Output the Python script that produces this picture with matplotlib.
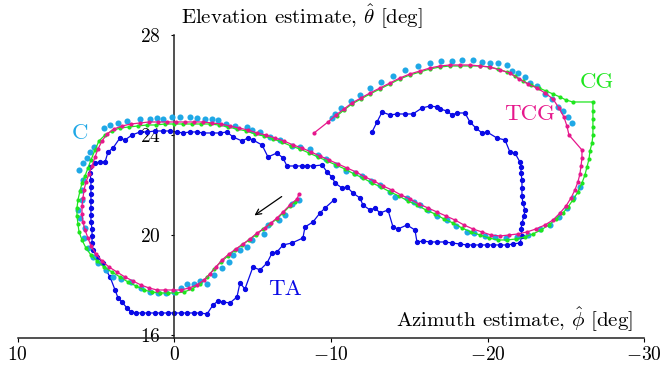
import matplotlib
matplotlib.use('Agg')
import matplotlib.pyplot as plt

plt.rcParams['font.family'] = 'serif'
plt.rcParams['font.serif'] = ['cmr10', 'DejaVu Serif']
plt.rcParams['mathtext.fontset'] = 'cm'
plt.rcParams['axes.formatter.use_mathtext'] = True

# TCG estimate (azimuth, elevation) in degrees
tcg_az = [-7.96, -7.83, -7.38, -6.94, -6.55, -6.17, -5.79, -5.28, -4.83, -4.38,
          -3.94, -3.49, -3.04, -2.66, -2.28, -1.90, -1.45, -0.94, -0.43, 0.08,
          0.59, 1.10, 1.61, 2.13, 2.64, 3.15, 3.66, 4.17, 4.61, 5.00,
          5.32, 5.51, 5.70, 5.83, 5.89, 5.89, 5.83, 5.76, 5.64, 5.44,
          5.25, 5.06, 4.87, 4.61, 4.30, 3.85, 3.34, 2.76, 2.19, 1.61,
          1.04, 0.47, -0.11, -0.68, -1.26, -1.83, -2.41, -2.98, -3.55, -4.13,
          -4.70, -5.28, -5.85, -6.43, -7.00, -7.58, -8.15, -8.72, -9.30, -9.87,
          -10.45, -11.02, -11.60, -12.17, -12.74, -13.32, -13.89, -14.47, -15.04, -15.62,
          -16.19, -16.77, -17.34, -17.91, -18.49, -19.06, -19.64, -20.21, -20.79, -21.36,
          -21.93, -22.51, -23.08, -23.66, -24.17, -24.62, -25.00, -25.32, -25.57, -25.76,
          -25.89, -25.96, -26.02, -26.02, -25.19, -25.06, -24.87, -24.55, -24.17, -23.66,
          -23.15, -22.57, -22.00, -21.42, -20.79, -20.15, -19.51, -18.87, -18.23, -17.59,
          -16.96, -16.32, -15.68, -15.04, -14.40, -13.77, -13.13, -12.49, -11.91, -11.34,
          -10.83, -10.32, -9.81, -8.92]
tcg_el = [21.64, 21.44, 21.20, 20.92, 20.68, 20.48, 20.28, 20.08, 19.84, 19.64,
          19.44, 19.24, 19.00, 18.72, 18.44, 18.20, 18.00, 17.88, 17.80, 17.80,
          17.80, 17.80, 17.88, 18.00, 18.16, 18.32, 18.52, 18.72, 18.96, 19.24,
          19.56, 19.88, 20.20, 20.52, 20.84, 21.16, 21.48, 21.80, 22.12, 22.44,
          22.76, 23.12, 23.44, 23.76, 24.04, 24.24, 24.36, 24.44, 24.48, 24.52,
          24.52, 24.52, 24.52, 24.52, 24.52, 24.52, 24.48, 24.44, 24.36, 24.28,
          24.20, 24.08, 24.00, 23.88, 23.76, 23.60, 23.48, 23.32, 23.16, 23.00,
          22.84, 22.68, 22.52, 22.32, 22.16, 21.96, 21.80, 21.60, 21.44, 21.24,
          21.08, 20.92, 20.76, 20.60, 20.40, 20.24, 20.12, 20.00, 19.96, 20.00,
          20.04, 20.12, 20.24, 20.40, 20.60, 20.88, 21.16, 21.48, 21.80, 22.12,
          22.44, 22.76, 23.08, 23.40, 24.00, 24.36, 24.72, 25.08, 25.44, 25.68,
          25.88, 26.04, 26.24, 26.48, 26.60, 26.72, 26.76, 26.80, 26.80, 26.80,
          26.76, 26.68, 26.56, 26.44, 26.28, 26.08, 25.88, 25.68, 25.48, 25.28,
          25.04, 24.80, 24.52, 24.08]

# CG estimate
cg_az = [-7.70, -7.38, -6.94, -6.55, -6.11, -5.66, -5.21, -4.77, -4.32, -3.87,
         -3.43, -2.98, -2.53, -2.09, -1.64, -1.13, -0.62, -0.11, 0.40, 0.91,
         1.42, 1.93, 2.44, 2.95, 3.47, 3.98, 4.49, 4.93, 5.32, 5.64,
         5.89, 6.08, 6.15, 6.21, 6.21, 6.15, 6.02, 5.89, 5.70, 5.51,
         5.32, 5.06, 4.81, 4.42, 3.98, 3.47, 2.89, 2.32, 1.74, 1.17,
         0.59, 0.02, -0.56, -1.13, -1.70, -2.28, -2.85, -3.43, -4.00, -4.58,
         -5.15, -5.72, -6.30, -6.87, -7.45, -8.02, -8.60, -9.17, -9.75, -10.32,
         -10.89, -11.47, -12.04, -12.62, -13.19, -13.77, -14.34, -14.91, -15.49, -16.06,
         -16.64, -17.21, -17.79, -18.36, -18.94, -19.51, -20.08, -20.66, -21.23, -21.81,
         -22.38, -22.89, -23.40, -23.91, -24.36, -24.81, -25.13, -25.44, -25.76, -26.02,
         -26.21, -26.34, -26.47, -26.53, -26.66, -26.72, -26.72, -26.72, -26.72, -26.72,
         -25.44, -25.00, -24.62, -24.17, -23.72, -23.28, -22.76, -22.25, -21.74, -21.23,
         -20.66, -20.08, -19.51, -18.87, -18.23, -17.59, -16.96, -16.32, -15.68, -15.04,
         -14.40, -13.77, -13.13, -12.49, -11.91, -11.34, -10.83, -10.38]
cg_el = [21.32, 21.16, 20.88, 20.64, 20.44, 20.24, 20.00, 19.80, 19.60, 19.40,
         19.16, 18.92, 18.64, 18.32, 18.04, 17.84, 17.72, 17.68, 17.68, 17.68,
         17.72, 17.80, 17.96, 18.12, 18.32, 18.52, 18.72, 18.96, 19.20, 19.48,
         19.80, 20.12, 20.44, 20.76, 21.08, 21.40, 21.76, 22.08, 22.36, 22.68,
         23.00, 23.40, 23.76, 24.00, 24.16, 24.28, 24.32, 24.36, 24.40, 24.40,
         24.44, 24.44, 24.44, 24.44, 24.44, 24.44, 24.40, 24.32, 24.24, 24.16,
         24.04, 23.96, 23.84, 23.72, 23.56, 23.44, 23.28, 23.12, 22.96, 22.80,
         22.64, 22.44, 22.28, 22.08, 21.92, 21.72, 21.56, 21.36, 21.20, 21.00,
         20.84, 20.64, 20.48, 20.28, 20.12, 20.00, 19.88, 19.80, 19.80, 19.84,
         19.92, 20.04, 20.20, 20.40, 20.64, 20.88, 21.12, 21.40, 21.72, 22.08,
         22.40, 22.72, 23.04, 23.36, 23.68, 24.00, 24.32, 24.64, 24.96, 25.32,
         25.32, 25.40, 25.52, 25.64, 25.76, 25.88, 26.00, 26.16, 26.36, 26.52,
         26.64, 26.72, 26.76, 26.76, 26.76, 26.76, 26.72, 26.64, 26.52, 26.40,
         26.24, 26.04, 25.84, 25.64, 25.44, 25.24, 25.00, 24.76]

# C estimate (dots only)
c_az = [-7.96, -7.51, -7.06, -6.68, -5.98, -5.72, -4.96, -4.64, -4.19, -3.75,
        -3.49, -3.04, -2.53, -2.09, -1.64, -1.26, -0.81, -0.43, 0.02, 0.53,
        1.04, 1.55, 2.13, 2.76, 3.40, 3.91, 4.36, 4.87, 5.19, 5.51,
        5.76, 5.70, 6.02, 6.15, 5.89, 5.89, 5.83, 6.08, 5.83, 5.57,
        5.38, 5.12, 4.49, 4.10, 3.59, 3.02, 2.19, 1.55, 1.10, 0.72,
        0.15, -0.36, -1.00, -1.45, -1.96, -2.41, -2.79, -3.30, -3.87, -4.64,
        -4.96, -5.47, -6.11, -6.75, -7.51, -8.02, -8.66, -9.17, -9.68, -10.32,
        -10.96, -11.53, -11.98, -12.55, -13.13, -13.77, -14.09, -14.85, -15.30, -15.68,
        -16.19, -16.77, -17.40, -17.98, -18.68, -19.13, -19.83, -20.47, -21.17, -21.87,
        -22.57, -23.34, -23.98, -24.55, -25.06, -25.44, -25.89, -25.38, -25.13, -24.81,
        -24.49, -24.10, -23.66, -23.15, -22.70, -22.38, -21.93, -21.55, -21.23, -20.66,
        -20.15, -19.64, -19.06, -18.36, -17.72, -17.02, -16.32, -15.55, -14.72, -13.96,
        -13.19, -12.49, -11.85, -11.28, -10.64, -10.26, -10.06]
c_el = [21.40, 21.24, 20.80, 20.60, 20.40, 20.04, 19.80, 19.52, 19.40, 19.20,
        18.92, 18.68, 18.40, 18.04, 18.16, 18.04, 18.04, 17.88, 17.72, 17.68,
        17.68, 17.72, 17.88, 18.12, 18.24, 18.32, 18.60, 18.88, 19.12, 19.48,
        19.88, 20.28, 20.68, 21.00, 21.40, 21.80, 22.20, 22.60, 22.88, 23.08,
        23.32, 23.52, 24.28, 24.40, 24.48, 24.56, 24.64, 24.64, 24.68, 24.64,
        24.72, 24.72, 24.72, 24.68, 24.64, 24.64, 24.60, 24.44, 24.36, 24.32,
        24.20, 24.12, 23.92, 23.80, 23.56, 23.52, 23.44, 23.20, 23.04, 22.80,
        22.56, 22.48, 22.36, 22.16, 22.00, 21.72, 21.52, 21.48, 21.32, 21.20,
        21.00, 20.76, 20.60, 20.36, 20.12, 20.08, 19.96, 19.92, 19.88, 19.92,
        20.00, 20.24, 20.40, 20.72, 21.08, 21.48, 21.92, 24.48, 24.72, 24.96,
        25.12, 25.44, 25.64, 25.96, 26.08, 26.32, 26.48, 26.56, 26.80, 26.88,
        26.88, 26.92, 27.00, 27.00, 26.96, 26.96, 26.88, 26.76, 26.60, 26.36,
        26.12, 25.88, 25.60, 25.36, 25.08, 24.84, 24.68]

# TA estimate
ta_az = [-10.19, -9.62, -9.30, -8.85, -8.34, -8.21, -7.51, -6.94, -6.55, -6.24,
         -5.92, -5.47, -5.02, -4.51, -4.19, -4.00, -3.55, -3.11, -2.79, -2.47,
         -2.09, -1.64, -1.26, -0.81, -0.43, 0.02, 0.40, 0.85, 1.23, 1.68,
         2.06, 2.44, 2.76, 3.02, 3.34, 3.59, 3.78, 4.10, 4.36, 4.55,
         4.93, 5.19, 5.25, 5.25, 5.25, 5.32, 5.32, 5.32, 5.32, 5.32,
         5.32, 5.32, 5.38, 5.38, 5.06, 4.74, 4.42, 4.23, 3.91, 3.47,
         3.15, 2.70, 2.19, 1.74, 1.23, 0.72, 0.27, -0.17, -0.56, -1.00,
         -1.45, -1.83, -2.41, -2.92, -3.36, -3.75, -4.32, -4.70, -5.02, -5.60,
         -5.98, -6.55, -6.94, -7.19, -7.70, -8.15, -8.47, -8.85, -9.43, -9.75,
         -10.06, -10.26, -10.70, -11.02, -11.40, -11.85, -12.04, -12.49, -12.81, -13.13,
         -13.64, -13.96, -14.28, -14.85, -15.36, -15.49, -15.87, -16.32, -16.77, -17.28,
         -17.72, -18.23, -18.68, -19.06, -19.51, -19.96, -20.34, -20.79, -21.23, -21.62,
         -22.06, -22.19, -22.13, -22.19, -22.32, -22.38, -22.25, -22.19, -22.19, -22.19,
         -22.13, -22.13, -22.06, -21.74, -21.42, -21.11, -20.59, -19.96, -19.64, -19.25,
         -18.87, -18.55, -18.04, -17.72, -17.40, -16.96, -16.77, -16.32, -15.81, -15.23,
         -14.72, -14.21, -13.77, -13.26, -12.94, -12.62]
ta_el = [21.40, 21.08, 20.88, 20.52, 20.32, 19.88, 19.68, 19.60, 19.32, 19.28,
         18.88, 18.60, 18.72, 17.84, 18.08, 17.52, 17.28, 17.32, 17.36, 17.20,
         16.84, 16.88, 16.88, 16.88, 16.88, 16.88, 16.88, 16.88, 16.88, 16.88,
         16.88, 16.88, 16.92, 17.08, 17.32, 17.48, 17.80, 18.32, 18.60, 18.88,
         19.12, 19.40, 19.68, 19.96, 20.24, 20.52, 20.80, 21.08, 21.36, 21.64,
         21.92, 22.20, 22.48, 22.72, 22.88, 22.92, 22.92, 23.32, 23.48, 23.88,
         23.80, 24.00, 24.12, 24.12, 24.16, 24.16, 24.16, 24.12, 24.08, 24.12,
         24.12, 24.08, 24.08, 24.08, 24.12, 23.92, 23.76, 23.88, 23.80, 23.60,
         23.12, 23.28, 23.08, 22.76, 22.76, 22.76, 22.76, 22.76, 22.80, 22.52,
         22.32, 22.08, 21.88, 21.92, 21.68, 21.48, 21.20, 21.00, 21.08, 20.88,
         21.00, 20.32, 20.24, 20.40, 20.20, 19.72, 19.76, 19.72, 19.72, 19.72,
         19.68, 19.64, 19.60, 19.60, 19.60, 19.60, 19.60, 19.60, 19.60, 19.64,
         19.68, 19.96, 20.24, 20.48, 20.76, 21.00, 21.28, 21.56, 21.88, 22.20,
         22.48, 22.72, 22.92, 23.28, 23.32, 23.80, 23.88, 24.12, 24.08, 24.28,
         24.52, 24.88, 24.88, 24.80, 24.96, 25.04, 25.12, 25.16, 25.08, 24.84,
         24.84, 24.84, 24.80, 24.92, 24.52, 24.12]

xticks = [10, 0, -10, -20, -30]
xtick_labels = ['$10$', '$0$', '$-10$', '$-20$', '$-30$']
yticks = [16, 20, 24, 28]
ytick_labels = ['$16$', '$20$', '$24$', '$28$']

c_col = '#1fa8e6'
cg_col = '#1ee61e'
tcg_col = '#e6178c'
ta_col = '#0a0ae6'

fig = plt.figure(figsize=(6.65, 3.71), dpi=100)
ax = fig.add_axes([0.0265, 0.089, 0.9424, 0.8167])

ax.plot(ta_az, ta_el, '-o', color=ta_col, lw=0.9, ms=2.8, zorder=2)
ax.plot(c_az, c_el, 'o', color=c_col, ms=4.4, mew=0, zorder=3)
ax.plot(cg_az, cg_el, '-o', color=cg_col, lw=0.9, ms=3.0, mew=0, zorder=4)
ax.plot(tcg_az, tcg_el, '-o', color=tcg_col, lw=0.9, ms=3.0, mew=0, zorder=5)

ax.text(6.02, 24.08, 'C', color=c_col, fontsize=16.5, ha='center', va='center')
ax.text(-26.97, 26.12, 'CG', color=cg_col, fontsize=16.5, ha='center', va='center')
ax.text(-22.7, 24.84, 'TCG', color=tcg_col, fontsize=16.5, ha='center', va='center')
ax.text(-7.06, 17.84, 'TA', color=ta_col, fontsize=16.5, ha='center', va='center')
ax.annotate('', xy=(-4.97, 20.72), xytext=(-7.0, 21.6),
            arrowprops=dict(arrowstyle='->', color='black', lw=0.9))

ax.set_xlim(10, -30)
ax.set_ylim(15.88, 28)
ax.spines['left'].set_position(('data', 0))
ax.spines['top'].set_visible(False)
ax.spines['right'].set_visible(False)
for s in ['left', 'bottom']:
    ax.spines[s].set_linewidth(1.1)
    ax.spines[s].set_color('#222222')

ax.set_xticks(xticks)
ax.set_xticklabels(xtick_labels)
ax.set_yticks(yticks)
ax.set_yticklabels(ytick_labels)
ax.tick_params(axis='x', direction='out', length=3, width=0.8, pad=3, labelsize=14)
ax.tick_params(axis='y', direction='out', length=2.5, width=0.8, pad=7.5, labelsize=14)
ax.patch.set_visible(False)

fig.text(181 / 665, 1 - 17 / 371, r'Elevation estimate, $\hat{\theta}$ [deg]',
         fontsize=15, ha='left', va='center')
fig.text(633 / 665, 1 - 320 / 371, r'Azimuth estimate, $\hat{\phi}$ [deg]',
         fontsize=15, ha='right', va='center')

fig.savefig('out.png', dpi=100)
